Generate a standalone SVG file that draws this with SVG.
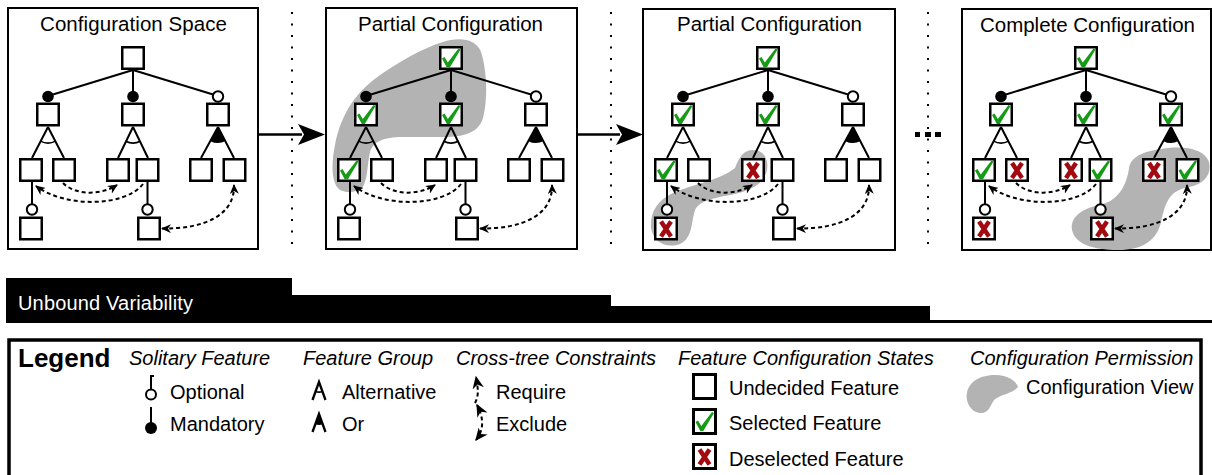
<svg xmlns="http://www.w3.org/2000/svg" xmlns:xlink="http://www.w3.org/1999/xlink" width="1212" height="475" viewBox="0 0 1212 475">
<style>
.frame{fill:#fff;stroke:#000;stroke-width:2}
.box{fill:#fff;stroke:#000;stroke-width:2.5}
.edge{stroke:#000;stroke-width:2;fill:none}
.arc{stroke:#000;stroke-width:1.6;fill:none}
.cons{stroke:#000;stroke-width:2;fill:none;stroke-dasharray:4 3}
.req{marker-end:url(#ah)}
.exc{marker-start:url(#ah);marker-end:url(#ah)}
.reqL{marker-end:url(#ahL)}
.excL{marker-start:url(#ahL);marker-end:url(#ahL)}
.mand{fill:#000}
.opt{fill:#fff;stroke:#000;stroke-width:2}
.view{fill:#b3b3b3}
.dot{stroke:#000;stroke-width:2;stroke-dasharray:2 9.5}
.t{font-family:"Liberation Sans",Arial,sans-serif;font-size:20px;fill:#000}
.ti{font-size:20.5px}
.hi{font-style:italic}
</style>
<defs>
<marker id="ah" viewBox="0 0 10 9" refX="9" refY="4.5" markerWidth="10" markerHeight="9" markerUnits="userSpaceOnUse" orient="auto-start-reverse">
<path d="M0,0 L10,4.5 L0,9 L3,4.5 Z" fill="#000"/>
</marker>
<marker id="ahL" viewBox="0 0 10 9" refX="9" refY="4.5" markerWidth="13" markerHeight="11.5" markerUnits="userSpaceOnUse" orient="auto-start-reverse">
<path d="M0,0 L10,4.5 L0,9 L3,4.5 Z" fill="#000"/>
</marker>
<path id="chk" d="M-9,0.5 L-6.5,-1 L-3.2,4.5 L7.5,-9.5 L9.5,-8.5 L-1.2,9.5 L-4.2,9.5 Z" fill="#169b16"/>
<path id="xx" d="M-5,-7 L5,8 M5,-7 L-5,8" stroke="#a30a10" stroke-width="4.5" fill="none"/>
</defs>
<rect width="1212" height="475" fill="#fff"/>

<!-- ===== Panel 1 ===== -->
<g id="panel1">
<rect class="frame" x="8" y="8" width="250" height="241"/>
<text class="t ti" x="40" y="31" textLength="187">Configuration Space</text>
<g id="p1-connectors">
<path class="edge" d="M133,70 L48,96 M133,70 L133,96 M133,70 L218,96"/>
<path class="edge" d="M48,127 L32,158 M48,127 L64,158 M133,127 L118,158 M133,127 L148,158 M218,127 L201,158 M218,127 L234,158"/>
<path class="arc" d="M40.5,141.1 A16,16 0 0 0 55.5,141.1 M125.8,141.3 A16,16 0 0 0 140.2,141.3"/>
<path fill="#000" d="M218,127 L210.1,140.9 A16,16 0 0 0 225.5,141.1 Z"/>
<path class="edge" d="M32,182 L32,204 M147.5,182 L147.5,204"/>
<circle class="mand" cx="48" cy="96.5" r="5.8"/><circle class="mand" cx="133" cy="96.5" r="5.8"/><circle class="opt" cx="218" cy="96.5" r="5.2"/>
<circle class="opt" cx="32" cy="209.5" r="5.2"/><circle class="opt" cx="147.5" cy="209.5" r="5.2"/>
<path class="cons req" d="M63,183 C75,195 100,196 117,185"/>
<path class="cons req" d="M143,184 C125,207 65,208 36,186"/>
<path class="cons exc" d="M162,228.5 C205,229 235,215 234,185"/>
</g>
<g id="p1-root"><rect class="box" x="122.25" y="47.25" width="21.5" height="21.5"/></g>
<g id="p1-a"><rect class="box" x="37.25" y="103.75" width="21.5" height="21.5"/></g>
<g id="p1-b"><rect class="box" x="122.25" y="103.75" width="21.5" height="21.5"/></g>
<g id="p1-c"><rect class="box" x="207.25" y="103.75" width="21.5" height="21.5"/></g>
<g id="p1-a1"><rect class="box" x="20.25" y="159.25" width="21.5" height="21.5"/></g>
<g id="p1-a2"><rect class="box" x="53.25" y="159.25" width="21.5" height="21.5"/></g>
<g id="p1-b1"><rect class="box" x="107.25" y="159.25" width="21.5" height="21.5"/></g>
<g id="p1-b2"><rect class="box" x="136.75" y="159.25" width="21.5" height="21.5"/></g>
<g id="p1-c1"><rect class="box" x="190.25" y="159.25" width="21.5" height="21.5"/></g>
<g id="p1-c2"><rect class="box" x="223.75" y="159.25" width="21.5" height="21.5"/></g>
<g id="p1-a1o"><rect class="box" x="20.25" y="217.75" width="21.5" height="21.5"/></g>
<g id="p1-b2o"><rect class="box" x="138.25" y="217.75" width="21.5" height="21.5"/></g>
</g>

<!-- ===== Panel 2 ===== -->
<g id="panel2" transform="translate(318,0)">
<rect class="frame" x="8" y="8" width="251" height="241"/>
<path class="view" d="M22,190 C12,182 14,160 17,145 C22,118 35,95 58,78 C80,62 105,48 125,42 C140,37 158,38 163,52 C169,70 170,100 165,118 C161,131 150,136 130,137 L85,137 C65,137 55,142 52,152 C49,165 50,180 44,188 C38,193 28,193 22,190 Z"/>
<text class="t ti" x="40" y="31" textLength="185">Partial Configuration</text>
<g id="p2-connectors">
<path class="edge" d="M133,70 L48,96 M133,70 L133,96 M133,70 L218,96"/>
<path class="edge" d="M48,127 L32,158 M48,127 L64,158 M133,127 L118,158 M133,127 L148,158 M218,127 L201,158 M218,127 L234,158"/>
<path class="arc" d="M40.5,141.1 A16,16 0 0 0 55.5,141.1 M125.8,141.3 A16,16 0 0 0 140.2,141.3"/>
<path fill="#000" d="M218,127 L210.1,140.9 A16,16 0 0 0 225.5,141.1 Z"/>
<path class="edge" d="M32,182 L32,204 M147.5,182 L147.5,204"/>
<circle class="mand" cx="48" cy="96.5" r="5.8"/><circle class="mand" cx="133" cy="96.5" r="5.8"/><circle class="opt" cx="218" cy="96.5" r="5.2"/>
<circle class="opt" cx="32" cy="209.5" r="5.2"/><circle class="opt" cx="147.5" cy="209.5" r="5.2"/>
<path class="cons req" d="M63,183 C75,195 100,196 117,185"/>
<path class="cons req" d="M143,184 C125,207 65,208 36,186"/>
<path class="cons exc" d="M162,228.5 C205,229 235,215 234,185"/>
</g>
<g id="p2-root"><rect class="box" x="122.25" y="47.25" width="21.5" height="21.5"/><use href="#chk" x="133" y="58"/></g>
<g id="p2-a"><rect class="box" x="37.25" y="103.75" width="21.5" height="21.5"/><use href="#chk" x="48" y="114.5"/></g>
<g id="p2-b"><rect class="box" x="122.25" y="103.75" width="21.5" height="21.5"/><use href="#chk" x="133" y="114.5"/></g>
<g id="p2-c"><rect class="box" x="207.25" y="103.75" width="21.5" height="21.5"/></g>
<g id="p2-a1"><rect class="box" x="20.25" y="159.25" width="21.5" height="21.5"/><use href="#chk" x="31" y="170"/></g>
<g id="p2-a2"><rect class="box" x="53.25" y="159.25" width="21.5" height="21.5"/></g>
<g id="p2-b1"><rect class="box" x="107.25" y="159.25" width="21.5" height="21.5"/></g>
<g id="p2-b2"><rect class="box" x="136.75" y="159.25" width="21.5" height="21.5"/></g>
<g id="p2-c1"><rect class="box" x="190.25" y="159.25" width="21.5" height="21.5"/></g>
<g id="p2-c2"><rect class="box" x="223.75" y="159.25" width="21.5" height="21.5"/></g>
<g id="p2-a1o"><rect class="box" x="20.25" y="217.75" width="21.5" height="21.5"/></g>
<g id="p2-b2o"><rect class="box" x="138.25" y="217.75" width="21.5" height="21.5"/></g>
</g>

<!-- ===== Panel 3 ===== -->
<g id="panel3" transform="translate(635,0)">
<rect class="frame" x="8" y="9" width="252" height="241"/>
<path class="view" d="M16,228 C15,212 22,200 40,192 C60,184 85,180 100,168 C104,158 108,150 118,150 C128,150 134,158 132,170 C130,182 118,190 100,194 C80,198 65,200 60,210 C56,222 58,238 45,244 C32,249 18,242 16,228 Z"/>
<text class="t ti" x="42" y="31" textLength="185">Partial Configuration</text>
<g id="p3-connectors">
<path class="edge" d="M133,70 L48,96 M133,70 L133,96 M133,70 L218,96"/>
<path class="edge" d="M48,127 L32,158 M48,127 L64,158 M133,127 L118,158 M133,127 L148,158 M218,127 L201,158 M218,127 L234,158"/>
<path class="arc" d="M40.5,141.1 A16,16 0 0 0 55.5,141.1 M125.8,141.3 A16,16 0 0 0 140.2,141.3"/>
<path fill="#000" d="M218,127 L210.1,140.9 A16,16 0 0 0 225.5,141.1 Z"/>
<path class="edge" d="M32,182 L32,204 M147.5,182 L147.5,204"/>
<circle class="mand" cx="48" cy="96.5" r="5.8"/><circle class="mand" cx="133" cy="96.5" r="5.8"/><circle class="opt" cx="218" cy="96.5" r="5.2"/>
<circle class="opt" cx="32" cy="209.5" r="5.2"/><circle class="opt" cx="147.5" cy="209.5" r="5.2"/>
<path class="cons req" d="M63,183 C75,195 100,196 117,185"/>
<path class="cons req" d="M143,184 C125,207 65,208 36,186"/>
<path class="cons exc" d="M162,228.5 C205,229 235,215 234,185"/>
</g>
<g id="p3-root"><rect class="box" x="122.25" y="47.25" width="21.5" height="21.5"/><use href="#chk" x="133" y="58"/></g>
<g id="p3-a"><rect class="box" x="37.25" y="103.75" width="21.5" height="21.5"/><use href="#chk" x="48" y="114.5"/></g>
<g id="p3-b"><rect class="box" x="122.25" y="103.75" width="21.5" height="21.5"/><use href="#chk" x="133" y="114.5"/></g>
<g id="p3-c"><rect class="box" x="207.25" y="103.75" width="21.5" height="21.5"/></g>
<g id="p3-a1"><rect class="box" x="20.25" y="159.25" width="21.5" height="21.5"/><use href="#chk" x="31" y="170"/></g>
<g id="p3-a2"><rect class="box" x="53.25" y="159.25" width="21.5" height="21.5"/></g>
<g id="p3-b1"><rect class="box" x="107.25" y="159.25" width="21.5" height="21.5"/><use href="#xx" x="118" y="170"/></g>
<g id="p3-b2"><rect class="box" x="136.75" y="159.25" width="21.5" height="21.5"/></g>
<g id="p3-c1"><rect class="box" x="190.25" y="159.25" width="21.5" height="21.5"/></g>
<g id="p3-c2"><rect class="box" x="223.75" y="159.25" width="21.5" height="21.5"/></g>
<g id="p3-a1o"><rect class="box" x="20.25" y="217.75" width="21.5" height="21.5"/><use href="#xx" x="31" y="228.5"/></g>
<g id="p3-b2o"><rect class="box" x="138.25" y="217.75" width="21.5" height="21.5"/></g>
</g>

<!-- ===== Panel 4 ===== -->
<g id="panel4" transform="translate(953,0)">
<rect class="frame" x="9" y="9" width="249" height="241"/>
<path class="view" d="M176,168 C178,155 195,150 215,148 C235,146 252,150 256,162 C259,176 250,185 232,188 C215,192 212,205 208,222 C204,240 190,250 165,250 C140,250 122,244 119,230 C117,216 130,208 150,204 C165,200 174,185 176,168 Z"/>
<text class="t ti" x="27" y="32" textLength="215">Complete Configuration</text>
<g id="p4-connectors">
<path class="edge" d="M133,70 L48,96 M133,70 L133,96 M133,70 L218,96"/>
<path class="edge" d="M48,127 L32,158 M48,127 L64,158 M133,127 L118,158 M133,127 L148,158 M218,127 L201,158 M218,127 L234,158"/>
<path class="arc" d="M40.5,141.1 A16,16 0 0 0 55.5,141.1 M125.8,141.3 A16,16 0 0 0 140.2,141.3"/>
<path fill="#000" d="M218,127 L210.1,140.9 A16,16 0 0 0 225.5,141.1 Z"/>
<path class="edge" d="M32,182 L32,204 M147.5,182 L147.5,204"/>
<circle class="mand" cx="48" cy="96.5" r="5.8"/><circle class="mand" cx="133" cy="96.5" r="5.8"/><circle class="opt" cx="218" cy="96.5" r="5.2"/>
<circle class="opt" cx="32" cy="209.5" r="5.2"/><circle class="opt" cx="147.5" cy="209.5" r="5.2"/>
<path class="cons req" d="M63,183 C75,195 100,196 117,185"/>
<path class="cons req" d="M143,184 C125,207 65,208 36,186"/>
<path class="cons exc" d="M162,228.5 C205,229 235,215 234,185"/>
</g>
<g id="p4-root"><rect class="box" x="122.25" y="47.25" width="21.5" height="21.5"/><use href="#chk" x="133" y="58"/></g>
<g id="p4-a"><rect class="box" x="37.25" y="103.75" width="21.5" height="21.5"/><use href="#chk" x="48" y="114.5"/></g>
<g id="p4-b"><rect class="box" x="122.25" y="103.75" width="21.5" height="21.5"/><use href="#chk" x="133" y="114.5"/></g>
<g id="p4-c"><rect class="box" x="207.25" y="103.75" width="21.5" height="21.5"/><use href="#chk" x="218" y="114.5"/></g>
<g id="p4-a1"><rect class="box" x="20.25" y="159.25" width="21.5" height="21.5"/><use href="#chk" x="31" y="170"/></g>
<g id="p4-a2"><rect class="box" x="53.25" y="159.25" width="21.5" height="21.5"/><use href="#xx" x="64" y="170"/></g>
<g id="p4-b1"><rect class="box" x="107.25" y="159.25" width="21.5" height="21.5"/><use href="#xx" x="118" y="170"/></g>
<g id="p4-b2"><rect class="box" x="136.75" y="159.25" width="21.5" height="21.5"/><use href="#chk" x="147.5" y="170"/></g>
<g id="p4-c1"><rect class="box" x="190.25" y="159.25" width="21.5" height="21.5"/><use href="#xx" x="201" y="170"/></g>
<g id="p4-c2"><rect class="box" x="223.75" y="159.25" width="21.5" height="21.5"/><use href="#chk" x="234.5" y="170"/></g>
<g id="p4-a1o"><rect class="box" x="20.25" y="217.75" width="21.5" height="21.5"/><use href="#xx" x="31" y="228.5"/></g>
<g id="p4-b2o"><rect class="box" x="138.25" y="217.75" width="21.5" height="21.5"/><use href="#xx" x="149" y="228.5"/></g>
</g>

<!-- ===== Between panels ===== -->
<g id="separators">
<line class="dot" x1="292" y1="12" x2="292" y2="252"/>
<line class="dot" x1="611" y1="12" x2="611" y2="252"/>
<line class="dot" x1="928" y1="12" x2="928" y2="252"/>
<rect x="915" y="132" width="5" height="5" fill="#000"/>
<rect x="925" y="132" width="6" height="5" fill="#000"/>
<rect x="935" y="132" width="6" height="5" fill="#000"/>
</g>
<g id="main-connectors">
<line x1="258" y1="134.5" x2="302" y2="134.5" stroke="#000" stroke-width="2.5"/>
<polygon points="298,124 325,134.5 298,145 304,134.5" fill="#000"/>
<line x1="577" y1="134.5" x2="620" y2="134.5" stroke="#000" stroke-width="2.5"/>
<polygon points="616,124 643,134.5 616,145 622,134.5" fill="#000"/>
</g>

<!-- ===== Unbound variability bar ===== -->
<g id="variability-bar">
<polygon points="6,278 292,278 292,295 611,295 611,306 930,306 930,320 1212,320 1212,323 6,323" fill="#000"/>
<text class="t" x="18" y="310" style="fill:#fff" textLength="175">Unbound Variability</text>
</g>

<!-- ===== Legend ===== -->
<g id="legend">
<rect x="9" y="340" width="1192" height="160" fill="none" stroke="#000" stroke-width="3.5"/>
<text class="t" x="18" y="367" style="font-weight:bold;font-size:26px">Legend</text>
<text class="t hi" x="129" y="365">Solitary Feature</text>
<text class="t hi" x="303" y="365">Feature Group</text>
<text class="t hi" x="456" y="365">Cross-tree Constraints</text>
<text class="t hi" x="678" y="365">Feature Configuration States</text>
<text class="t hi" x="970" y="365">Configuration Permission</text>

<g id="lg-optional">
<path class="edge" d="M151,375 L151,389 M151,376 L154,376"/>
<circle class="opt" cx="151" cy="394.5" r="5"/>
<text class="t" x="170" y="399">Optional</text>
</g>
<g id="lg-mandatory">
<path class="edge" d="M151,407 L151,423"/>
<circle class="mand" cx="151" cy="428" r="6"/>
<text class="t" x="170" y="431">Mandatory</text>
</g>
<g id="lg-alternative">
<path class="edge" style="stroke-width:2.3" d="M312.5,400 L319,382 L325.5,400"/>
<path class="arc" d="M315.6,391.5 A10,10 0 0 0 322.4,391.5"/>
<text class="t" x="342" y="399">Alternative</text>
</g>
<g id="lg-or">
<path class="edge" style="stroke-width:2.3" d="M312.5,432 L319,414 L325.5,432"/>
<path fill="#000" d="M319,414 L315.3,424.3 A11,11 0 0 0 322.7,424.3 Z"/>
<text class="t" x="342" y="431">Or</text>
</g>
<g id="lg-require">
<path class="cons reqL" d="M475,403 C478,397 479,392 476,377"/>
<text class="t" x="496" y="399">Require</text>
</g>
<g id="lg-exclude">
<path class="cons excL" d="M476,440 C484,430 484,418 477,405"/>
<text class="t" x="496" y="431">Exclude</text>
</g>
<g id="lg-undecided">
<rect x="693.5" y="374.5" width="22" height="24" fill="#fff" stroke="#000" stroke-width="3"/>
<text class="t" x="729" y="395">Undecided Feature</text>
</g>
<g id="lg-selected">
<rect x="693.5" y="409.5" width="22" height="24" fill="#fff" stroke="#000" stroke-width="3"/>
<use href="#chk" x="704.5" y="421.5"/>
<text class="t" x="729" y="430">Selected Feature</text>
</g>
<g id="lg-deselected">
<rect x="693.5" y="444.5" width="22" height="24" fill="#fff" stroke="#000" stroke-width="3"/>
<use href="#xx" x="704.5" y="456.5"/>
<text class="t" x="729" y="466">Deselected Feature</text>
</g>
<g id="lg-view">
<path class="view" d="M967,393 C969,381 981,375 995,375 C1008,375 1016,381 1018,387 C1012,394 1001,394 994,400 C990,406 989,413 981,413 C972,413 965,403 967,393 Z"/>
<text class="t" x="1026" y="394">Configuration View</text>
</g>
</g>
</svg>
